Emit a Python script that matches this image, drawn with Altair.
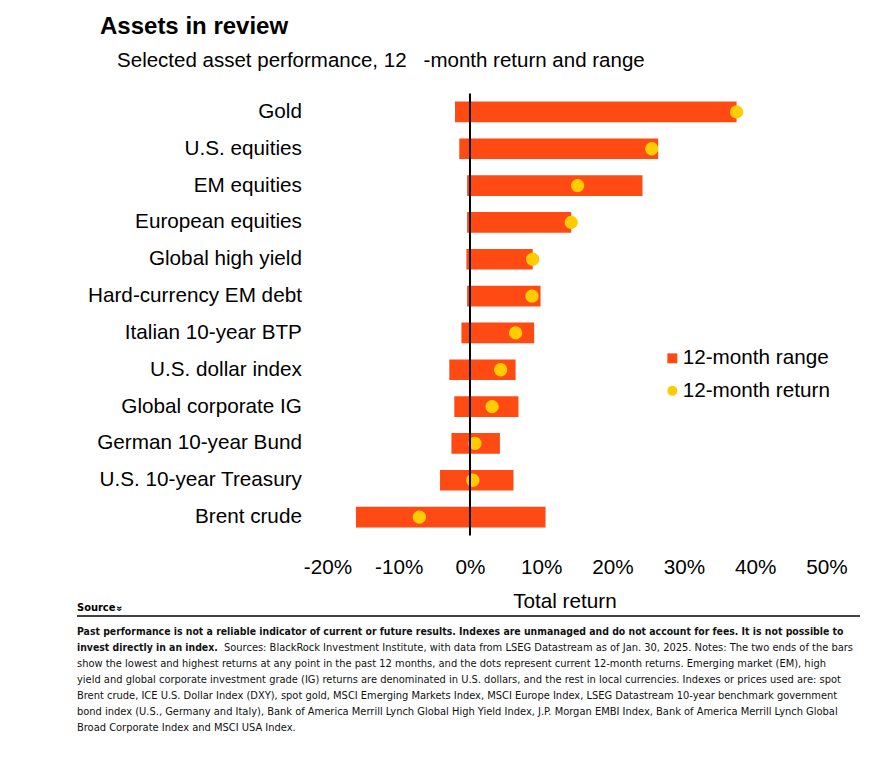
import altair as alt
import pandas as pd

# ---------------- data ----------------
assets = ["Gold", "U.S. equities", "EM equities", "European equities",
          "Global high yield", "Hard-currency EM debt", "Italian 10-year BTP",
          "U.S. dollar index", "Global corporate IG", "German 10-year Bund",
          "U.S. 10-year Treasury", "Brent crude"]
range_low = [-2.1, -1.5, -0.4, -0.4, -0.5, -0.4, -1.2, -2.9, -2.2, -2.6, -4.2, -16.0]
range_high = [37.4, 26.4, 24.2, 14.2, 8.8, 9.9, 9.0, 6.4, 6.8, 4.2, 6.1, 10.6]
returns_12m = [37.4, 25.5, 15.1, 14.2, 8.8, 8.7, 6.4, 4.3, 3.1, 0.7, 0.4, -7.1]
x_ticks = [-20, -10, 0, 10, 20, 30, 40, 50]
series = ["12-month range", "12-month return"]
series_colors = ["#FF4A14", "#FFCC00"]
shapes = ["square", "circle"]

title_text = "Assets in review"
subtitle_text = "\u200b\u00a0\u00a0\u00a0Selected asset performance, 12\u00a0\u00a0\u00a0-month return and range"
x_title = "Total return"
source_label = "Source"
footer_bold_lines = [
    "Past performance is not a reliable indicator of current or future results. Indexes are unmanaged and do not account for fees. It is not possible to",
    "invest directly in an index.",
]
footer_line2_rest = "Sources: BlackRock Investment Institute, with data from LSEG Datastream as of Jan. 30, 2025. Notes: The two ends of the bars"
footer_lines = [
    "show the lowest and highest returns at any point in the past 12 months, and the dots represent current 12-month returns. Emerging market (EM), high",
    "yield and global corporate investment grade (IG) returns are denominated in U.S. dollars, and the rest in local currencies. Indexes or prices used are: spot",
    "Brent crude, ICE U.S. Dollar Index (DXY), spot gold, MSCI Emerging Markets Index, MSCI Europe Index, LSEG Datastream 10-year benchmark government",
    "bond index (U.S., Germany and Italy), Bank of America Merrill Lynch Global High Yield Index, J.P. Morgan EMBI Index, Bank of America Merrill Lynch Global",
    "Broad Corporate Index and MSCI USA Index.",
]

df = pd.DataFrame({
    "asset": assets,
    "low": range_low,
    "high": range_high,
    "ret": returns_12m,
    "s_range": [series[0]] * len(assets),
    "s_ret": [series[1]] * len(assets),
})
zero_df = pd.DataFrame({"zero": [0]})
one = pd.DataFrame({"k": [0]})

MAIN_FONT = "Liberation Sans, Arial, Helvetica, sans-serif"
NARROW_FONT = "Liberation Sans Narrow, Arial Narrow, DejaVu Sans Condensed, sans-serif"
FS = 20.7

PLOT_W, PLOT_H = 499, 442

x_scale = alt.Scale(domain=[-20, 50], nice=False, zero=False)
y_scale = alt.Scale(paddingInner=0.44, paddingOuter=0.22)
color_scale = alt.Scale(domain=series, range=series_colors)
shape_scale = alt.Scale(domain=series, range=shapes)

x_enc_axis = alt.Axis(
    values=x_ticks, labelExpr="datum.value + '%'", grid=False, ticks=False,
    tickSize=0, domain=False, labelFontSize=FS, labelFont=MAIN_FONT,
    labelColor="#000000", labelPadding=22, labelFlush=False, labelOverlap=False,
    title=x_title, titleFontSize=FS,
    titleFont=MAIN_FONT, titleFontWeight="normal", titleColor="#000000",
    titleX=237, titleY=71.5, titleBaseline="alphabetic", titleAlign="center",
)
y_axis = alt.Axis(
    title=None, ticks=False, tickSize=0, domain=False, grid=False,
    labelFontSize=FS, labelFont=MAIN_FONT, labelColor="#000000",
    labelPadding=26, labelLimit=400, labelAlign="right",
)

legend = alt.Legend(
    title=None, orient="none", legendX=334.6, legendY=254.5,
    labelFontSize=FS, labelFont=MAIN_FONT, labelColor="#000000",
    symbolSize=100, symbolStrokeWidth=0, rowPadding=10.5, labelOffset=0,
    padding=0,
)

base = alt.Chart(df)

bars = base.mark_bar().encode(
    y=alt.Y("asset:N", sort=assets, scale=y_scale, axis=y_axis),
    x=alt.X("low:Q", scale=x_scale, axis=x_enc_axis),
    x2="high:Q",
    color=alt.Color("s_range:N", scale=color_scale, legend=legend),
)

points = base.mark_point(filled=True, opacity=1, size=177).encode(
    y=alt.Y("asset:N", sort=assets),
    x=alt.X("ret:Q"),
    color=alt.Color("s_ret:N", scale=color_scale, legend=legend),
    shape=alt.Shape("s_ret:N", scale=shape_scale, legend=legend),
)

zero_rule = alt.Chart(zero_df).mark_rule(color="#000000", strokeWidth=2).encode(
    x=alt.X("zero:Q")
)

# ---------------- footer (positions relative to plot origin) ----------------
FX = -250.4
source_txt = alt.Chart(one).mark_text(
    text=source_label, font=NARROW_FONT, fontSize=11, fontWeight="bold",
    align="left", baseline="middle", color="#000000",
).encode(x=alt.value(FX), y=alt.value(514.5))

chevron = alt.Chart(one).mark_text(
    text="\u00bb", font=MAIN_FONT, fontSize=10, fontWeight="bold", angle=90,
    align="center", baseline="middle", color="#000000",
).encode(x=alt.value(FX + 42), y=alt.value(515))

source_rule = alt.Chart(one).mark_rule(color="#000000", strokeWidth=1.3).encode(
    x=alt.value(FX), x2=alt.value(532.6), y=alt.value(522.5)
)

bold_txt = alt.Chart(one).mark_text(
    text=footer_bold_lines, font=NARROW_FONT, fontSize=10.4, fontWeight="bold",
    align="left", baseline="middle", lineHeight=16, color="#111111",
).encode(x=alt.value(FX), y=alt.value(538.5))

line2_txt = alt.Chart(one).mark_text(
    text=footer_line2_rest, font=NARROW_FONT, fontSize=11,
    align="left", baseline="middle", color="#111111",
).encode(x=alt.value(FX + 147), y=alt.value(554.5))

rest_txt = alt.Chart(one).mark_text(
    text=footer_lines, font=NARROW_FONT, fontSize=11,
    align="left", baseline="middle", lineHeight=16, color="#111111",
).encode(x=alt.value(FX), y=alt.value(570.5))

chart = alt.layer(
    bars, points, zero_rule, source_txt, chevron, source_rule,
    bold_txt, line2_txt, rest_txt,
).resolve_scale(
    color="shared", shape="shared"
).properties(
    width=PLOT_W,
    height=PLOT_H,
    background="#ffffff",
    autosize=alt.AutoSizeParams(type="none"),
    padding={"left": 319.4, "top": 85.5, "right": 49.6, "bottom": 222.5},
    title=alt.TitleParams(
        text=title_text, subtitle=subtitle_text, anchor="start", frame="group",
        dx=-227.4, fontSize=24, fontWeight="bold", font=MAIN_FONT, color="#000000",
        subtitleFontSize=20.5, subtitleFont=MAIN_FONT, subtitleColor="#000000",
        subtitlePadding=12, offset=21,
    ),
).configure_view(
    stroke=None, strokeWidth=0
)

chart.save("out.html", embed_options={"renderer": "svg", "actions": False})
